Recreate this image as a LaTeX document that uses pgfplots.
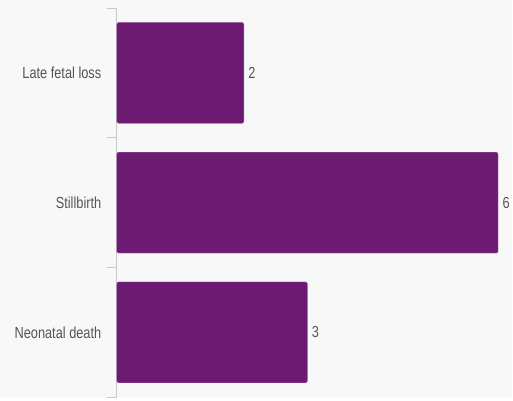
\documentclass[border=0pt]{standalone}
\usepackage{pgfplots}
\pgfplotsset{compat=1.18}
\usepackage{fontspec}
\setmainfont{Liberation Sans}
\newfontfamily\lab[FakeStretch=0.8]{Liberation Sans}
\definecolor{bg}{HTML}{F8F8F8}
\definecolor{barc}{HTML}{6D1B72}
\definecolor{txt}{HTML}{555555}
\definecolor{axc}{HTML}{C8C8C8}
\begin{document}
\begin{tikzpicture}[x=1pt,y=1pt]
\fill[bg] (0,0) rectangle (513,398);
\begin{axis}[
  at={(117pt,0pt)}, anchor=south west,
  scale only axis, width=382pt, height=390pt,
  xmin=0, xmax=6, ymin=-0.5, ymax=2.5,
  axis x line=none,
  axis y line*=left,
  y axis line style={draw=axc, line width=0.8pt, -},
  ytick={0,1,2},
  yticklabels={Neonatal death,Stillbirth,Late fetal loss},
  major tick length=0pt,
  yticklabel style={font=\lab\fontsize{16}{18}\selectfont, text=txt, xshift=-12pt},
  extra y ticks={-0.5,0.5,1.5,2.5},
  extra y tick labels={},
  extra y tick style={tick align=outside, major tick length=10pt, tick style={draw=axc, line width=0.8pt}},
  xbar, bar width=101pt,
  clip=false,
  /pgf/number format/assume math mode=true,
  nodes near coords,
  every node near coord/.append style={font=\lab\fontsize{16}{18}\selectfont, text=txt, anchor=west, xshift=1pt},
]
\addplot[fill=barc, draw=barc!70!white, line width=0.4pt, rounded corners=1.5pt] coordinates {(3,0) (6,1) (2,2)};
\end{axis}
\end{tikzpicture}
\end{document}
